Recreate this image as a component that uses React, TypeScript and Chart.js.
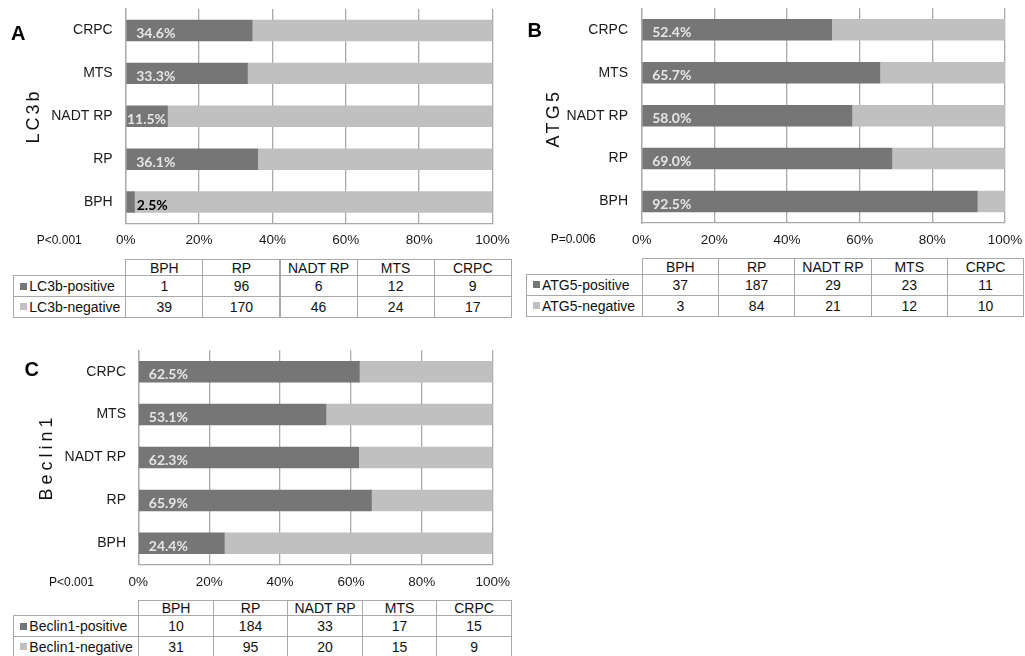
import React, { useEffect, useRef } from "react";
import { Chart, registerables } from "chart.js";

Chart.register(...registerables);

const categories = ["BPH", "RP", "NADT RP", "MTS", "CRPC"];
const tickLabels = ["0%", "20%", "40%", "60%", "80%", "100%"];

const lc3bPositivePct = [2.5, 36.1, 11.5, 33.3, 34.6];
const lc3bNegativePct = [97.5, 63.9, 88.5, 66.7, 65.4];
const lc3bPositiveCount = [1, 96, 6, 12, 9];
const lc3bNegativeCount = [39, 170, 46, 24, 17];

const atg5PositivePct = [92.5, 69.0, 58.0, 65.7, 52.4];
const atg5NegativePct = [7.5, 31.0, 42.0, 34.3, 47.6];
const atg5PositiveCount = [37, 187, 29, 23, 11];
const atg5NegativeCount = [3, 84, 21, 12, 10];

const beclin1PositivePct = [24.4, 65.9, 62.3, 53.1, 62.5];
const beclin1NegativePct = [75.6, 34.1, 37.7, 46.9, 37.5];
const beclin1PositiveCount = [10, 184, 33, 17, 15];
const beclin1NegativeCount = [31, 95, 20, 15, 9];

const DARK = "#767676";
const LIGHT = "#c0c0c0";
const GRID = "#a9a9a9";
const ARIAL = "'Liberation Sans', Arial, sans-serif";

type Geo = {
  letter: string;
  letterPos: { x: number; y: number };
  gene: string;
  geneCenter: { x: number; y: number };
  geneSpacing: number;
  pText: string;
  pPos: { x: number; y: number };
  canvas: { left: number; top: number; width: number; height: number };
  plot: { left: number; top: number; right: number; bottom: number };
  catPad: number;
  table: { left: number; top: number; labelW: number; colW: number; headH: number; rowH: number };
  pos: number[];
  neg: number[];
  posCount: number[];
  negCount: number[];
  posLabel: string;
  negLabel: string;
};

const panels: Geo[] = [
  {
    letter: "A",
    letterPos: { x: 11, y: 33.3 },
    gene: "LC3b",
    geneCenter: { x: 33, y: 116 },
    geneSpacing: 3,
    pText: "P<0.001",
    pPos: { x: 36.7, y: 240 },
    canvas: { left: 0, top: 0, width: 520, height: 256 },
    plot: { left: 125.7, top: 9, right: 492.5, bottom: 223.5 },
    catPad: 13,
    table: { left: 13.3, top: 259.3, labelW: 112, colW: 77.1, headH: 16, rowH: 20.7 },
    pos: lc3bPositivePct,
    neg: lc3bNegativePct,
    posCount: lc3bPositiveCount,
    negCount: lc3bNegativeCount,
    posLabel: "LC3b-positive",
    negLabel: "LC3b-negative",
  },
  {
    letter: "B",
    letterPos: { x: 527.5, y: 30 },
    gene: "ATG5",
    geneCenter: { x: 552.7, y: 118 },
    geneSpacing: 3.3,
    pText: "P=0.006",
    pPos: { x: 550.7, y: 239 },
    canvas: { left: 520, top: 0, width: 505, height: 256 },
    plot: { left: 641.7, top: 8.3, right: 1005, bottom: 223 },
    catPad: 13.7,
    table: { left: 526, top: 258.3, labelW: 115.7, colW: 76.3, headH: 15.7, rowH: 20.8 },
    pos: atg5PositivePct,
    neg: atg5NegativePct,
    posCount: atg5PositiveCount,
    negCount: atg5NegativeCount,
    posLabel: "ATG5-positive",
    negLabel: "ATG5-negative",
  },
  {
    letter: "C",
    letterPos: { x: 24.5, y: 369 },
    gene: "Beclin1",
    geneCenter: { x: 46.2, y: 457 },
    geneSpacing: 4,
    pText: "P<0.001",
    pPos: { x: 49, y: 581.7 },
    canvas: { left: 0, top: 340, width: 520, height: 257 },
    plot: { left: 138.3, top: 350.2, right: 492.7, bottom: 564.8 },
    catPad: 12.3,
    table: { left: 13.3, top: 600, labelW: 125, colW: 74.5, headH: 15.3, rowH: 20.6 },
    pos: beclin1PositivePct,
    neg: beclin1NegativePct,
    posCount: beclin1PositiveCount,
    negCount: beclin1NegativeCount,
    posLabel: "Beclin1-positive",
    negLabel: "Beclin1-negative",
  },
];

const labelPlugin = {
  id: "insideLabels",
  afterDatasetsDraw(chart: any) {
    const ctx = chart.ctx;
    const meta = chart.getDatasetMeta(0);
    const values = chart.data.datasets[0].data as number[];
    const left = chart.chartArea.left;
    ctx.save();
    ctx.font = "bold 14px Lato, 'Open Sans', sans-serif";
    ctx.textAlign = "left";
    ctx.textBaseline = "middle";
    meta.data.forEach((bar: any, i: number) => {
      const text = values[i].toFixed(1) + "%";
      const w = ctx.measureText(text).width;
      const barW = Math.abs(bar.x - bar.base);
      if (w + 2 <= barW) {
        ctx.fillStyle = "#e6e6e6";
        ctx.fillText(text, left + Math.min(10.5, (barW - w) / 2), bar.y + 3);
      } else {
        ctx.fillStyle = "#000000";
        ctx.fillText(text, left + 11, bar.y + 3);
      }
    });
    ctx.restore();
  },
};

function PanelChart({ g }: { g: Geo }) {
  const ref = useRef<HTMLCanvasElement | null>(null);
  useEffect(() => {
    if (!ref.current) return;
    const c = g.canvas;
    const p = g.plot;
    const chart = new Chart(ref.current, {
      type: "bar",
      data: {
        labels: categories,
        datasets: [
          {
            label: g.posLabel,
            data: g.pos,
            backgroundColor: DARK,
            categoryPercentage: 1,
            barPercentage: 0.5,
          },
          {
            label: g.negLabel,
            data: g.neg,
            backgroundColor: LIGHT,
            categoryPercentage: 1,
            barPercentage: 0.5,
          },
        ],
      },
      options: {
        indexAxis: "y",
        animation: false,
        responsive: true,
        maintainAspectRatio: false,
        layout: {
          padding: {
            left: 0,
            top: p.top - c.top,
            right: c.left + c.width - p.right,
            bottom: 0,
          },
        },
        plugins: { legend: { display: false }, tooltip: { enabled: false } },
        scales: {
          x: {
            stacked: true,
            min: 0,
            max: 100,
            ticks: {
              stepSize: 20,
              padding: 9,
              color: "#1a1a1a",
              font: { family: ARIAL, size: 13.5 },
              callback: (_v: any, i: number) => tickLabels[i],
            },
            grid: { color: GRID, lineWidth: 1.3, drawTicks: false },
            border: { display: true, color: GRID, width: 1.3 },
            afterFit: (s: any) => {
              s.height = c.top + c.height - p.bottom;
              s.paddingLeft = 0;
              s.paddingRight = 0;
            },
          },
          y: {
            stacked: true,
            reverse: true,
            grid: { display: false, drawTicks: false },
            border: { display: true, color: GRID, width: 1.3 },
            ticks: {
              padding: g.catPad,
              color: "#1a1a1a",
              font: { family: ARIAL, size: 14 },
            },
            afterFit: (s: any) => {
              s.width = p.left - c.left;
              s.paddingTop = 0;
              s.paddingBottom = 0;
            },
          },
        },
      } as any,
      plugins: [labelPlugin],
    });
    return () => chart.destroy();
  }, [g]);
  return (
    <div
      style={{
        position: "absolute",
        left: g.canvas.left,
        top: g.canvas.top,
        width: g.canvas.width,
        height: g.canvas.height,
      }}
    >
      <canvas ref={ref} />
    </div>
  );
}

function Cell({
  x, y, w, h, children, border = true, align = "center", pad = 0,
}: {
  x: number; y: number; w: number; h: number; children?: React.ReactNode;
  border?: boolean; align?: "center" | "left"; pad?: number;
}) {
  return (
    <div
      style={{
        position: "absolute",
        left: x,
        top: y,
        width: w + 1,
        height: h + 1,
        boxSizing: "border-box",
        border: border ? `1px solid ${GRID}` : "none",
        display: "flex",
        alignItems: "center",
        justifyContent: align === "center" ? "center" : "flex-start",
        paddingLeft: pad,
        fontFamily: ARIAL,
        fontSize: 14,
        color: "#111",
        whiteSpace: "nowrap",
        lineHeight: 1,
      }}
    >
      {children}
    </div>
  );
}

function DataTable({ g }: { g: Geo }) {
  const t = g.table;
  const cells: React.ReactNode[] = [];
  const dataLeft = t.left + t.labelW;
  categories.forEach((cat, i) => {
    cells.push(
      <Cell key={"h" + i} x={dataLeft + i * t.colW} y={t.top} w={t.colW} h={t.headH}>
        {cat}
      </Cell>
    );
  });
  const rows = [
    { label: g.posLabel, color: DARK, vals: g.posCount },
    { label: g.negLabel, color: LIGHT, vals: g.negCount },
  ];
  rows.forEach((r, ri) => {
    const y = t.top + t.headH + ri * t.rowH;
    cells.push(
      <Cell key={"l" + ri} x={t.left} y={y} w={t.labelW} h={t.rowH} align="left" pad={6}>
        <span
          style={{
            display: "inline-block",
            width: 7,
            height: 7,
            background: r.color,
            marginRight: 2,
          }}
        />
        {r.label}
      </Cell>
    );
    r.vals.forEach((v, i) => {
      cells.push(
        <Cell key={"c" + ri + "-" + i} x={dataLeft + i * t.colW} y={y} w={t.colW} h={t.rowH}>
          {v}
        </Cell>
      );
    });
  });
  return <>{cells}</>;
}

function PanelText({ g }: { g: Geo }) {
  return (
    <>
      <div
        style={{
          position: "absolute",
          left: g.letterPos.x,
          top: g.letterPos.y - 12,
          height: 24,
          lineHeight: "24px",
          fontFamily: ARIAL,
          fontWeight: "bold",
          fontSize: 20,
          color: "#000",
        }}
      >
        {g.letter}
      </div>
      <div
        style={{
          position: "absolute",
          left: g.geneCenter.x - 100,
          top: g.geneCenter.y - 12,
          width: 200,
          height: 24,
          lineHeight: "24px",
          textAlign: "center",
          fontFamily: ARIAL,
          fontSize: 18,
          letterSpacing: g.geneSpacing,
          color: "#111",
          transform: "rotate(-90deg)",
          transformOrigin: "center center",
        }}
      >
        {g.gene}
      </div>
      <div
        style={{
          position: "absolute",
          left: g.pPos.x,
          top: g.pPos.y - 8,
          height: 16,
          lineHeight: "16px",
          fontFamily: ARIAL,
          fontSize: 12,
          color: "#111",
          whiteSpace: "nowrap",
        }}
      >
        {g.pText}
      </div>
    </>
  );
}

export default function App() {
  return (
    <div
      style={{
        position: "absolute",
        left: 0,
        top: 0,
        width: 1025,
        height: 656,
        background: "#ffffff",
        overflow: "hidden",
      }}
    >
      {panels.map((g) => (
        <React.Fragment key={g.letter}>
          <PanelChart g={g} />
          <DataTable g={g} />
          <PanelText g={g} />
        </React.Fragment>
      ))}
    </div>
  );
}
